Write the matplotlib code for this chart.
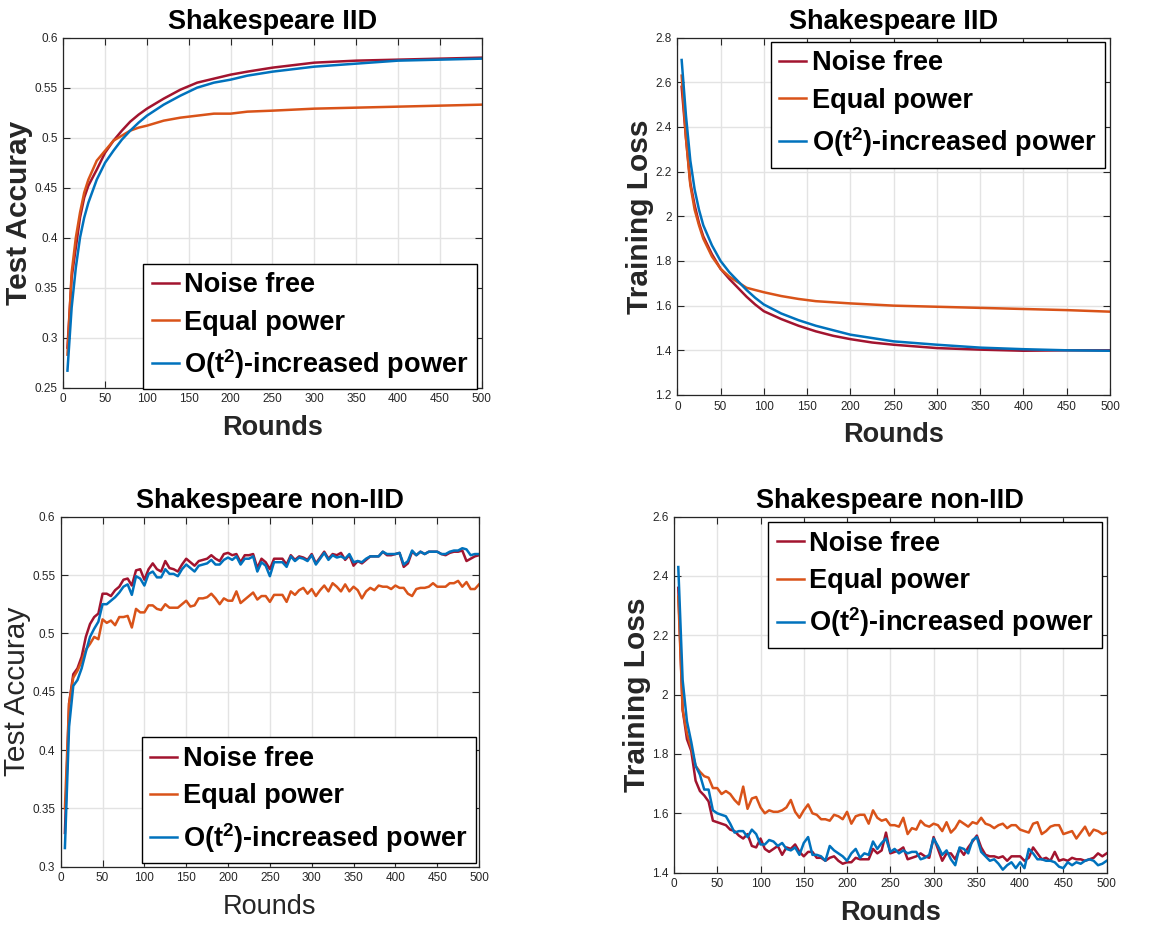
import numpy as np
import matplotlib
matplotlib.use("Agg")
import matplotlib.pyplot as plt

plt.rcParams['font.family'] = ['Liberation Sans', 'DejaVu Sans']
plt.rcParams['mathtext.fontset'] = 'custom'
plt.rcParams['mathtext.rm'] = 'Liberation Sans:bold'
plt.rcParams['mathtext.bf'] = 'Liberation Sans:bold'

C_FREE = '#A2142F'
C_EQUAL = '#D95319'
C_INC = '#0072BD'

labels = ['Noise free', 'Equal power', r'O(t$^{\mathbf{2}}$)-increased power']

# ---- Shakespeare IID, test accuracy ----
iid_acc_x = [5, 10, 15, 20, 25, 30, 40, 50, 60, 70, 80, 90, 100, 120, 140, 160,
             180, 200, 220, 250, 300, 350, 400, 450, 500]
iid_acc_free = [0.290, 0.360, 0.390, 0.420, 0.440, 0.452, 0.468, 0.485, 0.497, 0.507,
                0.516, 0.523, 0.529, 0.539, 0.548, 0.555, 0.559, 0.563, 0.566, 0.570,
                0.575, 0.577, 0.578, 0.579, 0.580]
iid_acc_equal = [0.283, 0.365, 0.400, 0.425, 0.445, 0.458, 0.477, 0.487, 0.497, 0.502,
                 0.507, 0.510, 0.512, 0.517, 0.520, 0.522, 0.524, 0.524, 0.526, 0.527,
                 0.529, 0.530, 0.531, 0.532, 0.533]
iid_acc_inc = [0.267, 0.330, 0.370, 0.400, 0.420, 0.435, 0.458, 0.475, 0.487, 0.498,
               0.507, 0.515, 0.522, 0.533, 0.542, 0.550, 0.555, 0.558, 0.562, 0.566,
               0.571, 0.574, 0.577, 0.578, 0.579]

# ---- Shakespeare IID, training loss ----
iid_loss_x = [5, 10, 15, 20, 25, 30, 40, 50, 60, 70, 80, 90, 100, 120, 140, 160,
              180, 200, 225, 250, 300, 350, 400, 450, 500]
iid_loss_free = [2.58, 2.35, 2.15, 2.05, 1.97, 1.91, 1.83, 1.765, 1.72, 1.68, 1.64,
                 1.605, 1.575, 1.54, 1.51, 1.485, 1.465, 1.45, 1.435, 1.425, 1.41,
                 1.403, 1.398, 1.400, 1.400]
iid_loss_equal = [2.63, 2.35, 2.14, 2.03, 1.96, 1.90, 1.82, 1.765, 1.73, 1.705, 1.68,
                  1.67, 1.66, 1.643, 1.63, 1.62, 1.615, 1.61, 1.605, 1.60, 1.595,
                  1.59, 1.585, 1.58, 1.573]
iid_loss_inc = [2.70, 2.45, 2.25, 2.12, 2.03, 1.96, 1.87, 1.80, 1.75, 1.71, 1.67,
                1.635, 1.605, 1.565, 1.535, 1.51, 1.49, 1.47, 1.455, 1.44, 1.425,
                1.412, 1.405, 1.400, 1.398]

# ---- Shakespeare non-IID, every 5 rounds ----
rounds = np.arange(5, 501, 5)

niid_acc_free = [
    0.329, 0.440, 0.465, 0.470, 0.480, 0.497, 0.508, 0.514, 0.517, 0.534,
    0.534, 0.532, 0.537, 0.540, 0.546, 0.547, 0.541, 0.554, 0.555, 0.546,
    0.555, 0.560, 0.555, 0.553, 0.562, 0.556, 0.555, 0.553, 0.559, 0.564,
    0.561, 0.558, 0.562, 0.563, 0.564, 0.567, 0.564, 0.562, 0.568, 0.569,
    0.567, 0.568, 0.561, 0.567, 0.567, 0.568, 0.556, 0.564, 0.561, 0.555,
    0.564, 0.564, 0.564, 0.559, 0.567, 0.563, 0.566, 0.565, 0.563, 0.568,
    0.560, 0.565, 0.570, 0.564, 0.568, 0.567, 0.569, 0.563, 0.567, 0.558,
    0.562, 0.560, 0.563, 0.566, 0.566, 0.566, 0.570, 0.567, 0.567, 0.568,
    0.569, 0.557, 0.560, 0.570, 0.567, 0.570, 0.568, 0.570, 0.570, 0.570,
    0.568, 0.567, 0.569, 0.570, 0.570, 0.571, 0.562, 0.564, 0.566, 0.567]
niid_acc_equal = [
    0.350, 0.440, 0.462, 0.468, 0.476, 0.486, 0.491, 0.497, 0.495, 0.512,
    0.509, 0.511, 0.507, 0.514, 0.514, 0.515, 0.505, 0.521, 0.518, 0.518,
    0.524, 0.524, 0.521, 0.520, 0.525, 0.522, 0.522, 0.522, 0.525, 0.528,
    0.523, 0.524, 0.530, 0.530, 0.531, 0.534, 0.530, 0.525, 0.530, 0.528,
    0.528, 0.536, 0.526, 0.529, 0.532, 0.535, 0.529, 0.532, 0.532, 0.527,
    0.533, 0.533, 0.533, 0.527, 0.536, 0.533, 0.537, 0.539, 0.534, 0.538,
    0.532, 0.537, 0.541, 0.536, 0.543, 0.540, 0.536, 0.542, 0.536, 0.540,
    0.537, 0.530, 0.536, 0.539, 0.537, 0.541, 0.540, 0.540, 0.538, 0.541,
    0.539, 0.539, 0.534, 0.532, 0.538, 0.539, 0.539, 0.540, 0.543, 0.540,
    0.540, 0.540, 0.543, 0.543, 0.545, 0.540, 0.544, 0.538, 0.538, 0.542]
niid_acc_inc = [
    0.316, 0.420, 0.455, 0.460, 0.470, 0.484, 0.497, 0.504, 0.510, 0.525,
    0.525, 0.528, 0.531, 0.535, 0.540, 0.542, 0.533, 0.549, 0.547, 0.541,
    0.551, 0.553, 0.548, 0.548, 0.555, 0.551, 0.551, 0.549, 0.555, 0.559,
    0.556, 0.553, 0.558, 0.559, 0.560, 0.563, 0.559, 0.559, 0.563, 0.565,
    0.563, 0.566, 0.559, 0.564, 0.564, 0.566, 0.553, 0.561, 0.558, 0.549,
    0.561, 0.561, 0.561, 0.557, 0.566, 0.562, 0.565, 0.564, 0.562, 0.567,
    0.559, 0.564, 0.569, 0.563, 0.567, 0.565, 0.566, 0.564, 0.568, 0.561,
    0.562, 0.561, 0.564, 0.566, 0.566, 0.566, 0.570, 0.568, 0.568, 0.568,
    0.569, 0.559, 0.562, 0.571, 0.567, 0.570, 0.568, 0.570, 0.570, 0.570,
    0.568, 0.568, 0.570, 0.571, 0.571, 0.573, 0.572, 0.567, 0.568, 0.568]

niid_loss_free = [
    2.360, 1.950, 1.850, 1.810, 1.710, 1.675, 1.660, 1.640, 1.575, 1.570,
    1.565, 1.560, 1.545, 1.540, 1.525, 1.515, 1.530, 1.490, 1.485, 1.515,
    1.480, 1.470, 1.480, 1.490, 1.460, 1.485, 1.480, 1.495, 1.470, 1.455,
    1.470, 1.470, 1.450, 1.450, 1.440, 1.450, 1.455, 1.440, 1.430, 1.435,
    1.435, 1.450, 1.445, 1.445, 1.445, 1.480, 1.465, 1.475, 1.535, 1.465,
    1.470, 1.475, 1.485, 1.445, 1.450, 1.455, 1.465, 1.455, 1.450, 1.520,
    1.480, 1.440, 1.465, 1.465, 1.445, 1.480, 1.460, 1.485, 1.505, 1.525,
    1.485, 1.460, 1.455, 1.455, 1.450, 1.455, 1.440, 1.455, 1.455, 1.455,
    1.440, 1.450, 1.485, 1.465, 1.445, 1.450, 1.440, 1.470, 1.440, 1.445,
    1.440, 1.450, 1.445, 1.445, 1.440, 1.445, 1.450, 1.465, 1.455, 1.465]
niid_loss_equal = [
    2.330, 1.950, 1.870, 1.820, 1.760, 1.740, 1.725, 1.720, 1.685, 1.685,
    1.665, 1.675, 1.665, 1.645, 1.630, 1.690, 1.615, 1.650, 1.655, 1.620,
    1.600, 1.610, 1.605, 1.605, 1.610, 1.620, 1.645, 1.605, 1.585, 1.610,
    1.630, 1.600, 1.595, 1.580, 1.580, 1.575, 1.595, 1.590, 1.580, 1.605,
    1.565, 1.590, 1.595, 1.595, 1.565, 1.610, 1.585, 1.575, 1.580, 1.560,
    1.560, 1.555, 1.585, 1.530, 1.550, 1.545, 1.575, 1.560, 1.555, 1.565,
    1.560, 1.540, 1.570, 1.535, 1.550, 1.575, 1.565, 1.555, 1.570, 1.565,
    1.585, 1.565, 1.560, 1.550, 1.560, 1.565, 1.550, 1.560, 1.560, 1.545,
    1.540, 1.535, 1.565, 1.570, 1.530, 1.540, 1.555, 1.560, 1.560, 1.530,
    1.535, 1.540, 1.515, 1.535, 1.555, 1.525, 1.545, 1.540, 1.530, 1.535]
niid_loss_inc = [
    2.430, 2.050, 1.910, 1.840, 1.760, 1.730, 1.680, 1.680, 1.610, 1.600,
    1.595, 1.590, 1.565, 1.535, 1.540, 1.540, 1.520, 1.545, 1.530, 1.495,
    1.495, 1.510, 1.505, 1.490, 1.500, 1.480, 1.475, 1.485, 1.460, 1.500,
    1.520, 1.460, 1.460, 1.455, 1.440, 1.490, 1.475, 1.465, 1.455, 1.440,
    1.465, 1.480, 1.450, 1.465, 1.460, 1.505, 1.480, 1.500, 1.515, 1.470,
    1.480, 1.465, 1.475, 1.465, 1.470, 1.470, 1.445, 1.450, 1.460, 1.515,
    1.490, 1.460, 1.475, 1.445, 1.425, 1.485, 1.480, 1.465, 1.510, 1.520,
    1.470, 1.455, 1.440, 1.445, 1.430, 1.410, 1.425, 1.435, 1.415, 1.435,
    1.415, 1.480, 1.465, 1.445, 1.445, 1.440, 1.440, 1.435, 1.420, 1.415,
    1.435, 1.425, 1.435, 1.430, 1.440, 1.445, 1.440, 1.425, 1.430, 1.440]


def style_axes(ax, ylim, yticks):
    ax.set_xlim(0, 500)
    ax.set_xticks(np.arange(0, 501, 50))
    ax.set_ylim(*ylim)
    ax.set_yticks(yticks)
    ax.grid(True, color='#e3e3e3', linewidth=1.0)
    ax.set_axisbelow(True)
    ax.tick_params(direction='in', length=5, width=0.8, top=True, right=True,
                   labelsize=8.5, labelcolor='#262626', color='#262626', pad=4)
    for sp in ax.spines.values():
        sp.set_color('#262626')
        sp.set_linewidth(0.9)


def draw(ax, x, ys, title, ylabel, ylim, yticks, leg_loc, leg_anchor, bold_labels=True):
    for y, c, lab in zip(ys, [C_FREE, C_EQUAL, C_INC], labels):
        ax.plot(x, y, color=c, linewidth=1.8, label=lab)
    style_axes(ax, ylim, yticks)
    ax.set_title(title, fontsize=19.5, fontweight='bold', pad=6)
    w = 'bold' if bold_labels else 'normal'
    ax.set_xlabel('Rounds', fontsize=19.5, fontweight=w, color='#262626', labelpad=7)
    ax.set_ylabel(ylabel, fontsize=21.5, fontweight=w, color='#262626', labelpad=1)
    leg = ax.legend(loc=leg_loc, bbox_to_anchor=leg_anchor, borderaxespad=0,
                    prop={'size': 19.5, 'weight': 'bold'}, handlelength=1.0,
                    handletextpad=0.2, labelspacing=0.42, borderpad=0.32,
                    fancybox=False, framealpha=1)
    leg.get_frame().set_edgecolor('black')
    leg.get_frame().set_linewidth(1.0)


fig = plt.figure(figsize=(11.61, 9.25), dpi=100)
ax1 = fig.add_axes([0.0545, 0.5809, 0.3604, 0.3784])
ax2 = fig.add_axes([0.5834, 0.5730, 0.3727, 0.3863])
ax3 = fig.add_axes([0.0523, 0.0630, 0.3603, 0.3784])
ax4 = fig.add_axes([0.5805, 0.0566, 0.3727, 0.3849])

acc_ticks = np.arange(0.25, 0.601, 0.05)
draw(ax1, iid_acc_x, [iid_acc_free, iid_acc_equal, iid_acc_inc], 'Shakespeare IID',
     'Test Accuray', (0.25, 0.6), acc_ticks, 'lower right', (0.9895, -0.005))
ax1.set_yticklabels(['0.25', '0.3', '0.35', '0.4', '0.45', '0.5', '0.55', '0.6'])

draw(ax2, iid_loss_x, [iid_loss_free, iid_loss_equal, iid_loss_inc], 'Shakespeare IID',
     'Training Loss', (1.2, 2.8), np.arange(1.2, 2.81, 0.2), 'upper right', (0.9884, 0.9888))
ax2.set_yticklabels(['1.2', '1.4', '1.6', '1.8', '2', '2.2', '2.4', '2.6', '2.8'])

draw(ax3, rounds, [niid_acc_free, niid_acc_equal, niid_acc_inc], 'Shakespeare non-IID',
     'Test Accuray', (0.3, 0.6), np.arange(0.3, 0.601, 0.05), 'lower right', (0.9928, 0.0097),
     bold_labels=False)
ax3.set_yticklabels(['0.3', '0.35', '0.4', '0.45', '0.5', '0.55', '0.6'])

draw(ax4, rounds, [niid_loss_free, niid_loss_equal, niid_loss_inc], 'Shakespeare non-IID',
     'Training Loss', (1.4, 2.6), np.arange(1.4, 2.61, 0.2), 'upper right', (0.9898, 0.9843))
ax4.set_yticklabels(['1.4', '1.6', '1.8', '2', '2.2', '2.4', '2.6'])

fig.savefig('out.png', dpi=100)
